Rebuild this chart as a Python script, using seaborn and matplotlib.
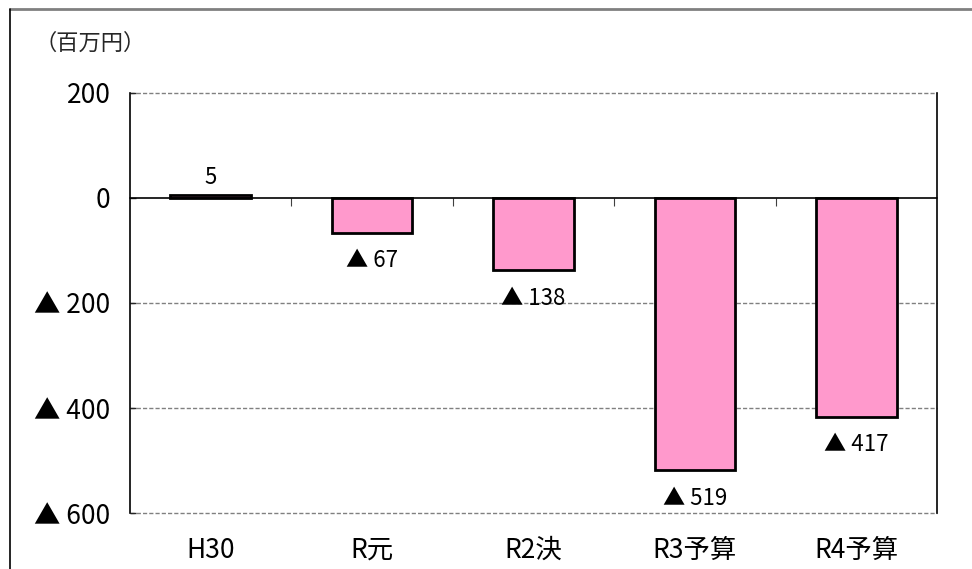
"""
Yearly balance (million yen) - bar chart
"""

# Libraries
import matplotlib
matplotlib.use("Agg")
import pandas as pd
import seaborn as sns
import matplotlib.pyplot as plt
from matplotlib.lines import Line2D

# Seaborn
sns.set_theme(style="white")
plt.rcParams['font.family'] = ['Noto Sans CJK JP', 'DejaVu Sans']

# ---------------------------------
# Data
# ---------------------------------
categories = ['H30', 'R元', 'R2決', 'R3予算', 'R4予算']
values = [5, -67, -138, -519, -417]
ytick_values = [-600, -400, -200, 0, 200]
ytick_labels = ['▲ 600', '▲ 400', '▲ 200', '0', '200']
unit_label = '（百万円）'

data = pd.DataFrame({'category': categories, 'value': values})


def fmt(v):
    return f'▲ {abs(v)}' if v < 0 else f'{v}'


# ---------------------------------
# Plot
# ---------------------------------
fig = plt.figure(figsize=(9.72, 5.69), dpi=100)
ax = fig.add_axes([0.1337, 0.0984, 0.8303, 0.7382])

sns.barplot(data=data, x='category', y='value', color='#FF99CC',
            saturation=1, edgecolor='black', linewidth=2.0, width=0.5, ax=ax)

# Axes limits
ax.set_ylim(-600, 200)
ax.set_xlim(-0.5, len(categories) - 0.5)
ax.set_yticks(ytick_values)
ax.set_yticklabels(ytick_labels)

# Grid lines (dashed), zero line solid
for yv in ytick_values:
    if yv == 0:
        ax.axhline(yv, color='black', linewidth=1.2, zorder=1, clip_on=False)
    else:
        ax.axhline(yv, color='#808080', linestyle=(0, (3, 1.5)),
                   linewidth=1.0, zorder=0, clip_on=False)

# Spines
ax.spines['top'].set_visible(False)
ax.spines['bottom'].set_visible(False)
for s in ['left', 'right']:
    ax.spines[s].set_color('black')
    ax.spines[s].set_linewidth(1.2)

# Ticks
ax.tick_params(axis='y', direction='in', length=4, width=1, pad=14,
               labelsize=19, left=True, labelcolor='black')
ax.tick_params(axis='x', length=0, pad=17, labelsize=19, labelcolor='black')
ax.set_xlabel('')
ax.set_ylabel('')

# Category boundary ticks on the zero line
frac0 = (0 - ax.get_ylim()[0]) / (ax.get_ylim()[1] - ax.get_ylim()[0])
sec = ax.secondary_xaxis(frac0)
sec.set_xticks([i + 0.5 for i in range(len(categories) - 1)])
sec.set_xticklabels([])
sec.tick_params(direction='in', length=6, width=0.8, color='#404040')
sec.spines['bottom'].set_visible(False)
sec.spines['top'].set_visible(False)

# Value labels
for i, v in enumerate(values):
    off = 13 if v >= 0 else -20
    ax.annotate(fmt(v), xy=(i, v), xytext=(0, off), textcoords='offset points',
                ha='center', va='center', fontsize=16, color='black')

# Unit label
fig.text(0.0926, 0.924, unit_label, fontsize=16, ha='center', va='center')

# Outer frame
fig.add_artist(Line2D([0.0103, 1.0], [0.984, 0.984], color='#808080', linewidth=2))
fig.add_artist(Line2D([0.0103, 0.0103], [0.0, 0.984], color='black', linewidth=1.2))

# Save
fig.savefig('out.png', dpi=100)
